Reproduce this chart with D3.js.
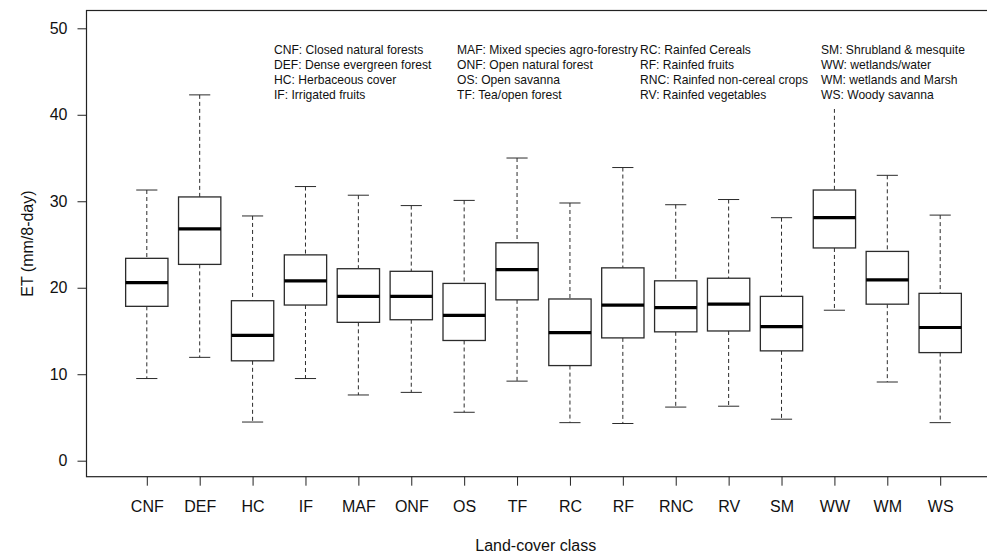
<!DOCTYPE html>
<html>
<head>
<meta charset="utf-8">
<script src="https://cdn.jsdelivr.net/npm/d3@7"></script>
<style>
  body { margin: 0; background: #fff; }
  svg { display: block; font-family: "Liberation Sans", Arial, sans-serif; }
</style>
</head>
<body>
<div id="chart"></div>
<script>
const classes = ["CNF", "DEF", "HC", "IF", "MAF", "ONF", "OS", "TF", "RC", "RF", "RNC", "RV", "SM", "WW", "WM", "WS"];
const whiskerLow  = [9.5, 11.95, 4.47, 9.5, 7.6, 7.9, 5.6, 9.2, 4.4, 4.3, 6.2, 6.3, 4.8, 17.4, 9.1, 4.4];
const q1          = [17.85, 22.7, 11.55, 18.0, 16.0, 16.3, 13.9, 18.6, 11.0, 14.2, 14.9, 15.0, 12.7, 24.6, 18.1, 12.5];
const medians     = [20.6, 26.8, 14.5, 20.8, 19.0, 19.0, 16.8, 22.1, 14.8, 18.0, 17.7, 18.1, 15.5, 28.1, 20.9, 15.4];
const q3          = [23.4, 30.5, 18.5, 23.8, 22.2, 21.9, 20.5, 25.2, 18.7, 22.3, 20.8, 21.1, 19.0, 31.3, 24.2, 19.35];
const whiskerHigh = [31.3, 42.3, 28.3, 31.7, 30.7, 29.5, 30.1, 35.0, 29.8, 33.9, 29.6, 30.2, 28.1, 41.5, 33.0, 28.4];
const yTicks = [0, 10, 20, 30, 40, 50];

// legend, filled column by column (4 rows each)
const legendLabels = [
  "CNF: Closed natural forests", "DEF: Dense evergreen forest", "HC: Herbaceous cover", "IF: Irrigated fruits",
  "MAF: Mixed species agro-forestry", "ONF: Open natural forest", "OS: Open savanna", "TF: Tea/open forest",
  "RC: Rainfed Cereals", "RF: Rainfed fruits", "RNC: Rainfed non-cereal crops", "RV: Rainfed vegetables",
  "SM: Shrubland & mesquite", "WW: wetlands/water", "WM: wetlands and Marsh", "WS: Woody savanna"
];

const width = 987, height = 557;
const plot = { left: 86.5, top: 10.5, right: 1000.5, bottom: 476.7 };

const data = classes.map((c, i) => ({
  name: c, idx: i + 1,
  lo: whiskerLow[i], q1: q1[i], med: medians[i], q3: q3[i], hi: whiskerHigh[i]
}));

const svg = d3.select("#chart").append("svg").attr("width", width).attr("height", height);

// index 1..16 with R style 4% padding around [0.5, 16.5]
const x = d3.scaleLinear().domain([-0.14, 17.14]).range([plot.left, plot.right]);
const y = d3.scaleLinear().domain([0, 50]).range([460.7, 28.3]);

const boxW = x(0.4) - x(0), capW = x(0.2) - x(0);
const stroke = "#2b2b2b";

// ---------- boxes ----------
const g = svg.append("g");
const box = g.selectAll(".box").data(data).enter().append("g").attr("class", "box");

box.append("line")
  .attr("x1", d => x(d.idx)).attr("x2", d => x(d.idx))
  .attr("y1", d => y(d.hi)).attr("y2", d => y(d.q3))
  .attr("stroke", stroke).attr("stroke-dasharray", "4,3");
box.append("line")
  .attr("x1", d => x(d.idx)).attr("x2", d => x(d.idx))
  .attr("y1", d => y(d.q1)).attr("y2", d => y(d.lo))
  .attr("stroke", stroke).attr("stroke-dasharray", "4,3");

box.append("line")
  .attr("x1", d => x(d.idx) - capW).attr("x2", d => x(d.idx) + capW)
  .attr("y1", d => y(d.hi)).attr("y2", d => y(d.hi))
  .attr("stroke", stroke);
box.append("line")
  .attr("x1", d => x(d.idx) - capW).attr("x2", d => x(d.idx) + capW)
  .attr("y1", d => y(d.lo)).attr("y2", d => y(d.lo))
  .attr("stroke", stroke);

box.append("rect")
  .attr("x", d => x(d.idx) - boxW).attr("width", 2 * boxW)
  .attr("y", d => y(d.q3)).attr("height", d => y(d.q1) - y(d.q3))
  .attr("fill", "#fff").attr("stroke", stroke).attr("stroke-width", 1.3);

box.append("line")
  .attr("x1", d => x(d.idx) - boxW).attr("x2", d => x(d.idx) + boxW)
  .attr("y1", d => y(d.med)).attr("y2", d => y(d.med))
  .attr("stroke", "#000").attr("stroke-width", 3.2);

// ---------- legend (white background hides whatever is underneath) ----------
const legend = svg.append("g");
legend.append("rect")
  .attr("x", 268).attr("y", 37).attr("width", 720).attr("height", 72)
  .attr("fill", "#fff");
const colX = [274, 457, 640, 821];
legend.selectAll("text").data(legendLabels).enter().append("text")
  .attr("x", (d, i) => colX[Math.floor(i / 4)])
  .attr("y", (d, i) => 49.5 + (i % 4) * 15)
  .attr("dy", "0.35em")
  .attr("font-size", 12.1).attr("fill", "#111")
  .text(d => d);

// ---------- frame ----------
svg.append("rect")
  .attr("x", plot.left).attr("y", plot.top)
  .attr("width", plot.right - plot.left).attr("height", plot.bottom - plot.top)
  .attr("fill", "none").attr("stroke", "#222").attr("stroke-width", 1.2);

// ---------- axes ----------
const yAxis = svg.append("g").attr("transform", `translate(${plot.left},0)`)
  .call(d3.axisLeft(y).tickValues(yTicks).tickSize(9).tickPadding(10));
yAxis.select(".domain").remove();
yAxis.selectAll("line").attr("stroke", "#222");
yAxis.selectAll("text").attr("font-size", 16).attr("fill", "#111").attr("font-family", null);

const xAxis = svg.append("g").attr("transform", `translate(0,${plot.bottom})`)
  .call(d3.axisBottom(x).tickValues(data.map(d => d.idx)).tickFormat((d, i) => classes[i]).tickSize(9).tickPadding(15));
xAxis.select(".domain").remove();
xAxis.selectAll("line").attr("stroke", "#222");
xAxis.selectAll("text").attr("font-size", 16).attr("fill", "#111").attr("font-family", null);

// ---------- axis titles ----------
svg.append("text")
  .attr("x", (plot.left + 985) / 2).attr("y", 551)
  .attr("text-anchor", "middle").attr("font-size", 16).attr("fill", "#111")
  .text("Land-cover class");

svg.append("text")
  .attr("transform", `translate(33,${(plot.top + plot.bottom) / 2}) rotate(-90)`)
  .attr("text-anchor", "middle").attr("font-size", 16).attr("fill", "#111")
  .text("ET (mm/8-day)");
</script>
</body>
</html>
